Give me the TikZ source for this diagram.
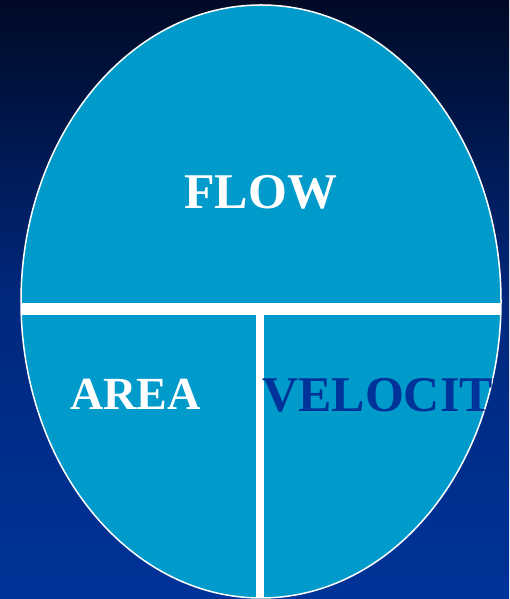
\documentclass[tikz,border=0pt]{standalone}
\usepackage{fontspec}
\setmainfont{Liberation Serif}
\definecolor{bgtop}{RGB}{0,10,38}
\definecolor{bgmid}{RGB}{0,40,125}
\definecolor{bgbot}{RGB}{0,51,153}
\definecolor{ovalfill}{RGB}{0,154,203}
\definecolor{veltext}{RGB}{0,51,153}
\tikzset{
  lbl/.style={anchor=base west, inner sep=0pt, font=\fontsize{50}{50}\selectfont\bfseries},
  bar/.style={fill=white, draw=none}
}
\begin{document}
\begin{tikzpicture}[x=1pt,y=1pt]
\useasboundingbox (0,0) rectangle (509,599);
\shade[top color=bgtop, bottom color=bgbot, middle color=bgmid] (0,0) rectangle (509,599);
\fill[ovalfill] (261,297.5) ellipse [x radius=240, y radius=296.5];
\begin{scope}
  \clip (261,297.5) ellipse [x radius=240, y radius=296.5];
  \fill[bar] (0,284) rectangle (509,296);
  \fill[bar] (256,0) rectangle (264,284);
\end{scope}
\draw[white, line width=1.5pt] (261,297.5) ellipse [x radius=240, y radius=296.5];
\node[lbl, text=white] (flow) at (184,390) {FLOW};
\node[lbl, text=white, font=\fontsize{46}{46}\selectfont\bfseries] (area) at (70,189) {AREA};
\begin{scope}
  \clip (261,297.5) ellipse [x radius=241, y radius=297.5];
  \node[lbl, text=veltext] (velocity) at (262,187) {VELOCITY};
\end{scope}
\end{tikzpicture}
\end{document}
